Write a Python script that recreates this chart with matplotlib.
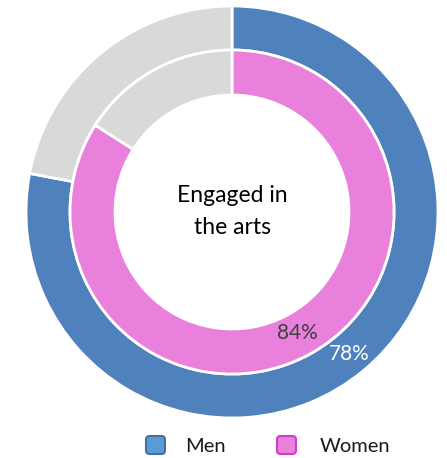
import matplotlib.pyplot as plt
from matplotlib.patches import FancyBboxPatch

# Share of each group engaged in the arts
groups = ["Men", "Women"]
men_share = [78, 22]
women_share = [84, 16]
label_text = ["78%", "84%"]

blue = "#4F81BD"
pink = "#E880DC"
grey = "#D9D9D9"

plt.rcParams["font.family"] = ["Lato", "DejaVu Sans"]

fig = plt.figure(figsize=(4.47, 4.58), dpi=100)
ax = fig.add_axes([0, 0, 1, 1])
ax.set_xlim(0, 447)
ax.set_ylim(0, 458)
ax.set_aspect("equal")
ax.axis("off")

cx, cy = 232, 458 - 212

# Outer ring: men
ax.pie(men_share, radius=206, center=(cx, cy), startangle=90, counterclock=False,
       colors=[blue, grey], wedgeprops=dict(width=44, edgecolor="white", linewidth=2))
# Inner ring: women
ax.pie(women_share, radius=162, center=(cx, cy), startangle=90, counterclock=False,
       colors=[pink, grey], wedgeprops=dict(width=45, edgecolor="white", linewidth=2))
ax.set_xlim(0, 447)
ax.set_ylim(0, 458)

ax.text(cx, 458 - 196, "Engaged in", ha="center", va="center", fontsize=16.5, color="black")
ax.text(cx, 458 - 228, "the arts", ha="center", va="center", fontsize=16.5, color="black")
ax.text(297, 458 - 333, label_text[1], ha="center", va="center", fontsize=15, color="#404040")
ax.text(349, 458 - 354, label_text[0], ha="center", va="center", fontsize=15, color="white")

# Legend drawn by hand along the bottom
legend_items = [(146, 185, groups[0], "#5B9BD5", "#41719C"),
                (277, 320, groups[1], "#E880DC", "#D33BC8")]
for x0, tx, name, face, edge in legend_items:
    box = FancyBboxPatch((x0 / 447, 1 - 454 / 458), 19 / 447, 18 / 458,
                         boxstyle="round,pad=0,rounding_size=0.008",
                         transform=fig.transFigure, facecolor=face, edgecolor=edge,
                         linewidth=1.5)
    fig.patches.append(box)
    fig.text(tx / 447, 1 - 446 / 458, name, ha="left", va="center",
             fontsize=14.5, color="#1a1a1a")

fig.savefig("out.png", dpi=100)
